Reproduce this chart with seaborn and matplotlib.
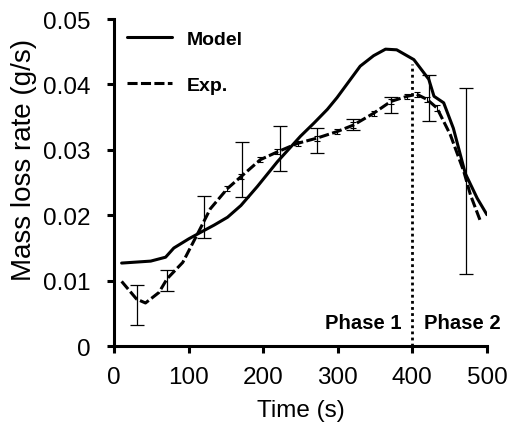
import numpy as np
import pandas as pd
import matplotlib
matplotlib.use("Agg")
import matplotlib.pyplot as plt
import seaborn as sns

# Model curve
model_t = [10, 49, 69, 80, 100, 116, 134, 152, 170, 192, 219, 250, 268, 286, 299,
           330, 348, 364, 379, 402, 422, 429, 442, 455, 471, 487, 500]
model_y = [0.0127, 0.0130, 0.0136, 0.0150, 0.0164, 0.0174, 0.0185, 0.0197, 0.0215, 0.0244,
           0.0282, 0.0321, 0.0341, 0.0362, 0.0380, 0.0428, 0.0444, 0.0454, 0.0453, 0.0438,
           0.0408, 0.0382, 0.0372, 0.0333, 0.0264, 0.0226, 0.0201]

# Experimental curve
exp_t = [10, 30, 42, 60, 71, 92, 112, 129, 152, 170, 196, 219, 246, 272, 299, 321,
         348, 371, 393, 406, 420, 433, 451, 469, 478, 491]
exp_y = [0.0099, 0.0072, 0.0066, 0.0082, 0.0103, 0.0128, 0.0172, 0.0210, 0.0241, 0.0259,
         0.0285, 0.0297, 0.0310, 0.0318, 0.0328, 0.0338, 0.0356, 0.0374, 0.0382, 0.0385,
         0.0377, 0.0364, 0.0323, 0.0267, 0.0231, 0.0192]
exp_small_err = 0.0004

# Main error bars of experiment
err_t = [30, 70.5, 120.5, 172, 222, 272, 321, 371, 422, 472]
err_c = [0.0063, 0.0101, 0.0197, 0.0270, 0.0302, 0.0315, 0.0339, 0.0369, 0.0379, 0.0253]
err_e = [0.0030, 0.0016, 0.0032, 0.0042, 0.0035, 0.0019, 0.0008, 0.0012, 0.0035, 0.0142]

phase_x = 400
phase_top = 0.0432

sns.set_style("ticks")
plt.rcParams['font.family'] = ['Liberation Sans', 'DejaVu Sans']
plt.rcParams['text.color'] = 'black'
plt.rcParams['axes.labelcolor'] = 'black'
plt.rcParams['xtick.color'] = 'black'
plt.rcParams['ytick.color'] = 'black'

fig = plt.figure(figsize=(5.12, 4.27), dpi=100)
ax = fig.add_axes([0.223, 0.187, 0.728, 0.766])

df_m = pd.DataFrame({"t": model_t, "y": model_y})
df_e = pd.DataFrame({"t": exp_t, "y": exp_y})
sns.lineplot(data=df_m, x="t", y="y", ax=ax, color="black", lw=2.2, label="Model")
sns.lineplot(data=df_e, x="t", y="y", ax=ax, color="black", lw=2.2, label="Exp.",
             linestyle=(0, (3.3, 1.1)))
ax.errorbar(exp_t[8:22], exp_y[8:22], yerr=exp_small_err, fmt="none", ecolor="black",
            elinewidth=0.8, capsize=2.5, capthick=0.8)
ax.errorbar(err_t, err_c, yerr=err_e, fmt="none", ecolor="black", elinewidth=0.9,
            capsize=5, capthick=0.9)

ax.plot([phase_x, phase_x], [0, phase_top], color="black", lw=2, linestyle=(0, (1, 1.2)))
ax.text(385, 0.0036, "Phase 1", ha="right", va="center", fontsize=14.6, fontweight="bold")
ax.text(415, 0.0036, "Phase 2", ha="left", va="center", fontsize=14.6, fontweight="bold")

ax.set_xlim(0, 500)
ax.set_ylim(0, 0.05)
ax.set_xticks([0, 100, 200, 300, 400, 500])
ax.set_yticks([0, 0.01, 0.02, 0.03, 0.04, 0.05])
ax.set_yticklabels(["0", "0.01", "0.02", "0.03", "0.04", "0.05"])
ax.set_xlabel("Time (s)", fontsize=17.5, labelpad=8)
ax.set_ylabel("Mass loss rate (g/s)", fontsize=20)
ax.yaxis.set_label_coords(-0.208, 0.572)
ax.tick_params(axis="both", labelsize=17.5, width=2.2, length=5, direction="out")
ax.tick_params(axis="x", pad=9)
ax.tick_params(axis="y", pad=12)
for s in ["left", "bottom"]:
    ax.spines[s].set_linewidth(2.2)
    ax.spines[s].set_color("black")
sns.despine(ax=ax)

leg = ax.legend(loc="upper left", frameon=False, fontsize=14, handlelength=2.3,
                handletextpad=0.75, labelspacing=1.45, borderpad=0, borderaxespad=0,
                bbox_to_anchor=(0.035, 0.965))
for t in leg.get_texts():
    t.set_fontweight("bold")

fig.savefig("out.png", dpi=100)
